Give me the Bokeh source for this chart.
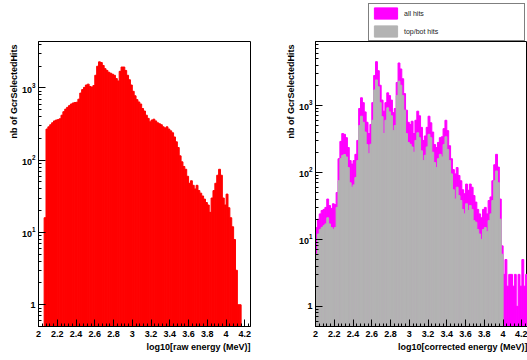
import numpy as np
from bokeh.plotting import figure
from bokeh.layouts import row, column
from bokeh.models import (Range1d, FixedTicker, SingleIntervalTicker, LogTickFormatter,
                          CustomJSTickFormatter, Legend, LegendItem, ColumnDataSource, Spacer,
                          Title)
from bokeh.embed import file_html
from bokeh.resources import INLINE

# ---------------- data ----------------
bin_start = 2.0
bin_width = 0.02

# left panel: log10[raw energy (MeV)]
raw_counts = [
    0, 0, 0, 16, 270, 290, 310, 330, 350, 360,
    365, 375, 420, 470, 510, 540, 570, 600, 620, 630,
    635, 700, 850, 950, 1020, 1100, 1130, 1050, 1030, 1080,
    1500, 2000, 2300, 2250, 2050, 1850, 1750, 1650, 1600, 1550,
    1500, 1350, 1250, 1700, 1950, 1950, 1750, 1500, 1300, 1100,
    900, 780, 690, 640, 600, 520, 480, 420, 380, 340,
    360, 370, 350, 330, 320, 310, 290, 280, 290, 270,
    255, 240, 210, 180, 150, 115, 95, 82, 75, 60,
    48, 52, 45, 40, 45, 38, 35, 32, 29, 26,
    24, 19, 30, 38, 48, 62, 75, 62, 30, 24,
    34, 22, 16, 12, 8, 3, 1, 1, 0, 0,
    0, 0, 0,
]

# right panel: log10[corrected energy (MeV)]
corr_all = [
    15, 20, 24, 27, 28, 30, 40, 32, 29, 34,
    33, 50, 160, 290, 380, 370, 330, 235, 150, 133,
    150, 186, 300, 900, 1300, 1100, 800, 560, 380, 520,
    1100, 2800, 4500, 3300, 2000, 1200, 820, 1100, 1540, 1400,
    1200, 780, 900, 2200, 4300, 3500, 2500, 1500, 850, 560,
    520, 580, 380, 600, 820, 700, 470, 300, 350, 470,
    690, 550, 400, 260, 235, 280, 330, 340, 450, 600,
    420, 250, 160, 110, 95, 118, 90, 75, 55, 48,
    67, 54, 67, 60, 45, 36, 28, 24, 21, 28,
    30, 24, 38, 43, 75, 130, 186, 120, 40, 8,
    3, 5, 2, 3, 3, 2, 3, 1, 3, 2,
    5, 2, 3,
]
corr_topbot = [
    6, 12, 14, 15, 16, 17, 21, 17, 15, 14,
    15, 30, 75, 160, 180, 185, 170, 118, 70, 60,
    65, 84, 150, 500, 690, 560, 400, 260, 190, 263,
    600, 1700, 2400, 1900, 1100, 680, 380, 600, 920, 800,
    700, 420, 500, 1400, 2300, 2000, 1400, 850, 380, 280,
    263, 240, 200, 300, 390, 330, 210, 150, 180, 240,
    370, 330, 200, 140, 118, 160, 186, 170, 260, 340,
    220, 150, 95, 55, 40, 60, 45, 38, 28, 24,
    34, 27, 32, 28, 19, 18, 14, 12, 10, 14,
    15, 13, 19, 24, 38, 75, 105, 70, 20, 6,
    0, 0, 0, 0, 0, 0, 0, 0, 0, 0,
    0, 0, 0,
]

legend_labels = ["all hits", "top/bot hits"]
y_title = "nb of GcrSelectedHits"
x_title_left = "log10[raw energy (MeV)]"
x_title_right = "log10[corrected energy (MeV)]"

y_major = [1, 10, 100, 1000]
y_minor = [m * 10.0 ** e for e in range(-1, 4) for m in range(2, 10)]

x_min, x_max = 2.0, 4.26
y_min = 0.5
y_max_left = 4400
y_max_right = 9000

FONT = "Liberation Sans"
RED = "#ff0000"
MAGENTA = "#ff00ff"
GREY = "#b3b3b3"


def hist_source(counts):
    c = np.asarray(counts, dtype=float)
    lo = bin_start + bin_width * np.arange(len(c))
    m = c > 0
    return ColumnDataSource(dict(left=lo[m], right=lo[m] + bin_width, top=c[m]))


def make_fig(width, b_left, b_right, ymax, xlabel):
    p = figure(width=width, height=319, output_backend="svg", toolbar_location=None,
               x_range=Range1d(x_min, x_max), y_range=Range1d(y_min, ymax),
               y_axis_type="log",
               min_border_left=b_left, min_border_right=b_right,
               min_border_top=0, min_border_bottom=34)
    p.grid.visible = False
    p.outline_line_color = "black"
    p.outline_line_width = 1
    p.background_fill_color = "white"
    p.border_fill_color = "white"

    xa = p.xaxis[0]
    xa.ticker = SingleIntervalTicker(interval=0.2, num_minor_ticks=5)
    xa.formatter = CustomJSTickFormatter(code="return String(Math.round(tick*10)/10);")

    ya = p.yaxis[0]
    ya.ticker = FixedTicker(ticks=y_major, minor_ticks=y_minor)
    ya.formatter = LogTickFormatter(min_exponent=1)

    for ax in (xa, ya):
        ax.major_tick_in = 7
        ax.major_tick_out = 0
        ax.minor_tick_in = 3
        ax.minor_tick_out = 0
        ax.axis_line_color = "black"
        ax.major_tick_line_color = "black"
        ax.minor_tick_line_color = "black"
        ax.major_label_text_font = FONT
        ax.major_label_text_font_style = "bold"
        ax.major_label_text_font_size = "9px"
        ax.major_label_text_color = "black"
    xa.major_label_standoff = 4
    ya.major_label_standoff = 3

    # axis titles, right/top aligned as in ROOT
    p.add_layout(Title(text=xlabel, align="right", text_font=FONT, text_font_style="bold",
                       text_font_size="9px", text_color="black", standoff=0, offset=0), "below")
    p.add_layout(Title(text=y_title, align="right", text_font=FONT, text_font_style="bold",
                       text_font_size="9px", text_color="black", standoff=0, offset=3), "left")
    return p


src_raw = hist_source(raw_counts)
src_all = hist_source(corr_all)
src_tb = hist_source(corr_topbot)

# left panel
p1 = make_fig(265, 38, 15, y_max_left, x_title_left)
p1.quad(left="left", right="right", top="top", bottom=y_min, source=src_raw,
        fill_color=RED, line_color=RED, line_width=1)

# right panel
p2 = make_fig(262, 50, 0, y_max_right, x_title_right)
p2.quad(left="left", right="right", top="top", bottom=y_min, source=src_all,
        fill_color=MAGENTA, line_color=MAGENTA, line_width=1)
p2.quad(left="left", right="right", top="top", bottom=y_min, source=src_tb,
        fill_color=GREY, line_color=GREY, line_width=1)

# legend box (sits above the right panel's frame, like the ROOT TLegend)
pl = figure(width=159, height=41, output_backend="svg", toolbar_location=None,
            x_axis_location=None, y_axis_location=None, min_border=0,
            x_range=Range1d(0, 1), y_range=Range1d(0, 1))
pl.grid.visible = False
pl.outline_line_color = None
# same histogram sources; their bins lie outside this box's range, only the legend swatches show
lr_all = pl.quad(left="left", right="right", top="top", bottom=y_min, source=src_all,
                 fill_color=MAGENTA, line_color=MAGENTA)
lr_tb = pl.quad(left="left", right="right", top="top", bottom=y_min, source=src_tb,
                fill_color=GREY, line_color=GREY)
legend = Legend(items=[LegendItem(label=legend_labels[0], renderers=[lr_all]),
                       LegendItem(label=legend_labels[1], renderers=[lr_tb])],
                location="bottom_left", orientation="vertical",
                margin=0, padding=2, spacing=4,
                glyph_width=29, glyph_height=14, label_standoff=4,
                label_width=118, label_height=14,
                label_text_font=FONT, label_text_font_size="7px", label_text_color="#222222",
                border_line_color="black", border_line_width=1,
                background_fill_color="white", background_fill_alpha=1.0)
pl.add_layout(legend, "center")

layout = column(row(Spacer(width=368, height=41), pl), row(p1, p2))
open("out.html", "w").write(file_html(layout, INLINE))
